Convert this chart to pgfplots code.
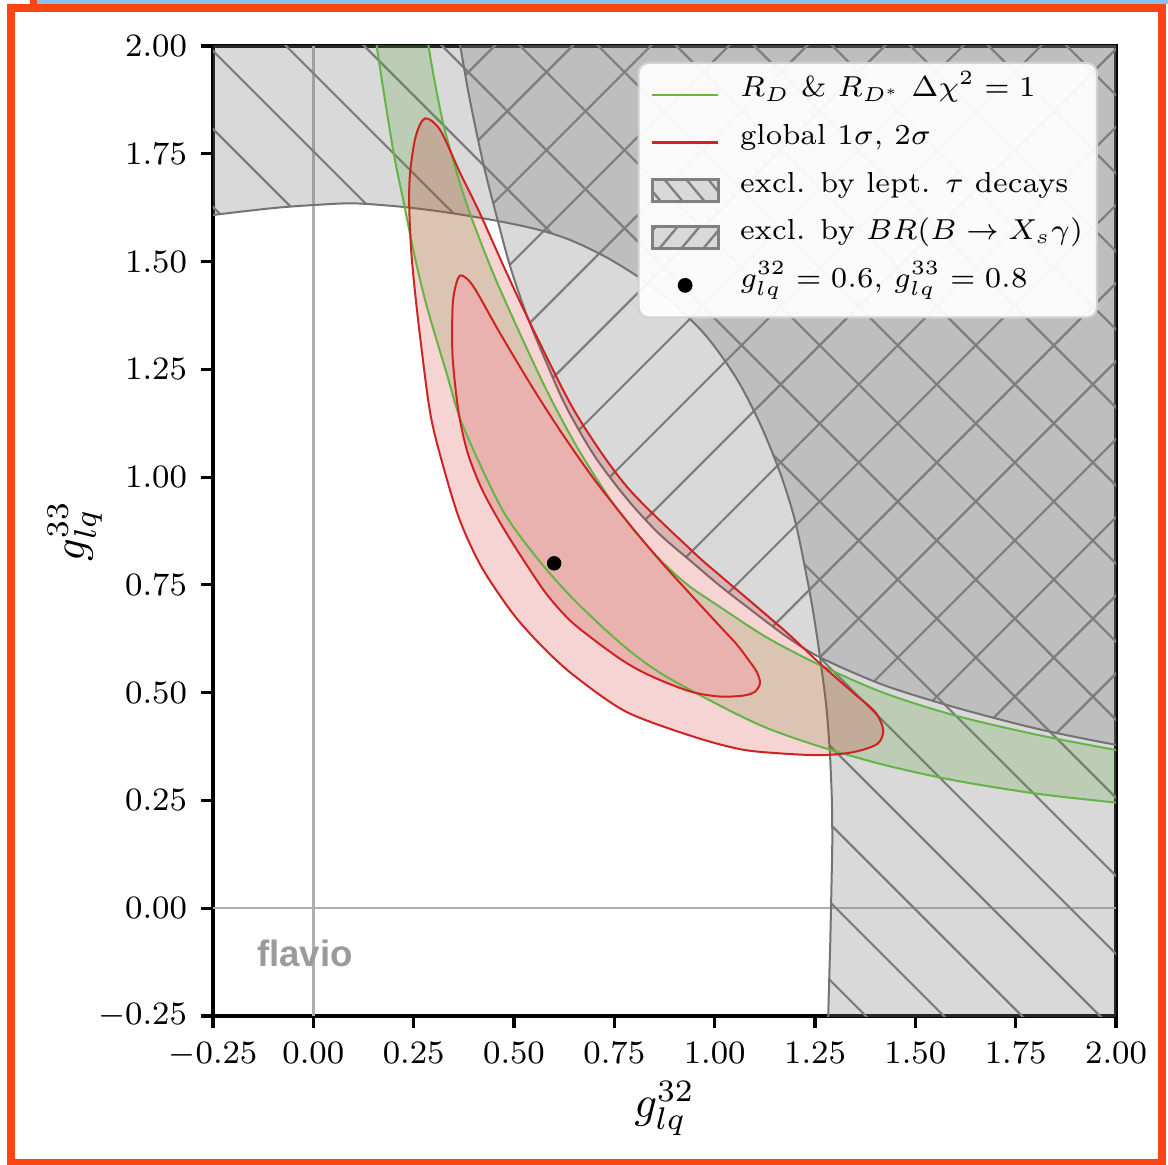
\RequirePackage{fix-cm}
\documentclass[border=0pt]{standalone}
\usepackage{fontspec}
\usepackage{pgfplots}
\pgfplotsset{compat=1.18}
\usetikzlibrary{patterns.meta}
\newfontfamily\flaviofont{Liberation Sans}
\definecolor{regiongray}{RGB}{128,128,128}
\definecolor{hatchgray}{RGB}{125,125,125}
\definecolor{edgegray}{RGB}{115,115,115}
\definecolor{zerogray}{RGB}{175,175,175}
\definecolor{greenfill}{RGB}{80,160,40}
\definecolor{greenedge}{RGB}{100,180,70}
\definecolor{redfill}{RGB}{214,39,40}
\definecolor{innerfill}{RGB}{234,178,175}
\definecolor{rededge}{RGB}{205,35,35}
\definecolor{frameorange}{RGB}{250,70,20}
\definecolor{topblue}{RGB}{140,190,240}
\definecolor{legendedge}{RGB}{210,210,210}
\definecolor{lightpatch}{RGB}{217,217,217}
\definecolor{flaviogray}{RGB}{155,155,155}
\begin{document}
\begin{tikzpicture}
\useasboundingbox (-53.25bp,-37.25bp) rectangle (238.75bp,254bp);
\fill[topblue] (-44bp,253bp) rectangle (238.75bp,254.25bp);
\fill[frameorange] (-45.75bp,252bp) rectangle (-44bp,254.25bp);
\draw[frameorange, line width=2bp] (-50.5bp,-36.75bp) rectangle (237.25bp,252bp);
\begin{axis}[
  width=225.75bp, height=242.5bp, scale only axis,
  xmin=-0.25, xmax=2, ymin=-0.25, ymax=2,
  xtick={-0.25,0,0.25,0.5,0.75,1,1.25,1.5,1.75,2},
  ytick={-0.25,0,0.25,0.5,0.75,1,1.25,1.5,1.75,2},
  tick pos=left, tick align=outside, major tick length=3bp,
  every tick/.style={black, line width=0.8bp},
  axis line style={line width=0.8bp},
  ticklabel style={font=\fontsize{8.2}{9}\selectfont,
    /pgf/number format/fixed, /pgf/number format/fixed zerofill,
    /pgf/number format/precision=2},
  xlabel={$g_{lq}^{32}$}, ylabel={$g_{lq}^{33}$},
  label style={font=\fontsize{11.2}{13}\selectfont},
  xlabel style={at={(axis description cs:0.5,-0.095)}, anchor=center},
  ylabel style={at={(axis description cs:-0.153,0.5)}, anchor=center},
  legend cell align=left,
  legend style={at={(0.980,0.9835)}, anchor=north east, draw=legendedge,
    line width=0.5bp, fill=white, fill opacity=0.93, text opacity=1,
    rounded corners=2.5bp, inner xsep=3bp, inner ysep=3.5bp,
    font=\fontsize{7.25}{9}\selectfont, row sep=2.9bp,
    nodes={inner sep=0.5bp, text height=4.5bp, text depth=3.5bp},
    /tikz/every odd column/.append style={column sep=4.6bp}},
]
\addlegendimage{legend image code/.code={\draw[greenedge, line width=0.55bp, draw opacity=1] (0bp,0bp) -- (16.5bp,0bp);}}
\addlegendentry{$R_D$ \& $R_{D^*}$ $\Delta\chi^2=1$}
\addlegendimage{legend image code/.code={\draw[rededge, line width=0.55bp, draw opacity=1] (0bp,0bp) -- (16.5bp,0bp);}}
\addlegendentry{global $1\sigma$, $2\sigma$}
\addlegendimage{legend image code/.code={\draw[sharp corners, draw=regiongray, draw opacity=1, line width=0.75bp, fill=lightpatch, fill opacity=1, postaction={fill opacity=1, pattern={Lines[angle=-50,distance=4.2bp,line width=0.6bp]}, pattern color=regiongray}] (0bp,-2.75bp) rectangle (16.5bp,2.75bp);}}
\addlegendentry{excl. by lept. $\tau$ decays}
\addlegendimage{legend image code/.code={\draw[sharp corners, draw=regiongray, draw opacity=1, line width=0.75bp, fill=lightpatch, fill opacity=1, postaction={fill opacity=1, pattern={Lines[angle=50,distance=4.2bp,line width=0.6bp]}, pattern color=regiongray}] (0bp,-2.75bp) rectangle (16.5bp,2.75bp);}}
\addlegendentry{excl. by $BR(B\rightarrow X_s\gamma)$}
\addlegendimage{legend image code/.code={\fill[black, fill opacity=1] (8.25bp,0bp) circle (1.6bp);}}
\addlegendentry{$g_{lq}^{32}=0.6$, $g_{lq}^{33}=0.8$}

% zero lines
\addplot[zerogray, line width=0.6bp, forget plot] coordinates {(0,-0.25) (0,2)};
\addplot[zerogray, line width=0.6bp, forget plot] coordinates {(-0.25,0) (2,0)};

% tau decays exclusion (outside the ellipse)
\addplot[draw=none, smooth, fill=regiongray, fill opacity=0.3,
  postaction={fill opacity=1, pattern={Lines[angle=-45,distance=13.8bp,line width=0.55bp]}, pattern color=hatchgray},
  forget plot] coordinates {
(3,3) (-0.7,3) (-0.7,1.57) (-0.4,1.59) (-0.25,1.608) (-0.10,1.624) (0.00,1.631) (0.10,1.635)
(0.22,1.627) (0.34,1.613) (0.46,1.594) (0.56,1.574) (0.64,1.550) (0.73,1.510) (0.82,1.458)
(0.90,1.400) (0.98,1.326) (1.055,1.228) (1.115,1.120) (1.165,1.005) (1.200,0.900) (1.225,0.790)
(1.245,0.690) (1.262,0.585) (1.278,0.470) (1.287,0.360) (1.292,0.250) (1.293,0.150) (1.291,0.050)
(1.288,-0.080) (1.283,-0.25) (1.280,-0.45) (1.28,-0.7) (3,-0.7) (3,3)};

% BR(B -> Xs gamma) exclusion
\addplot[draw=none, smooth, fill=regiongray, fill opacity=0.3,
  postaction={fill opacity=1, pattern={Lines[angle=45,distance=13.8bp,line width=0.55bp]}, pattern color=hatchgray},
  forget plot] coordinates {
(2.5,2.5) (0.33,2.5) (0.33,2.3) (0.343,2.12) (0.366,2.000) (0.390,1.875) (0.424,1.725) (0.457,1.604)
(0.490,1.490) (0.532,1.375) (0.581,1.265) (0.630,1.163) (0.700,1.050) (0.781,0.950) (0.860,0.870)
(0.947,0.800) (1.013,0.748) (1.089,0.693) (1.179,0.630) (1.262,0.582) (1.420,0.518) (1.595,0.467)
(1.800,0.417) (2.000,0.379) (2.200,0.348) (2.5,0.30) (2.5,2.5)};

% boundaries of the exclusions
\addplot[smooth, edgegray, line width=0.5bp, forget plot] coordinates {
(-0.4,1.59) (-0.25,1.608) (-0.10,1.624) (0.00,1.631) (0.10,1.635)
(0.22,1.627) (0.34,1.613) (0.46,1.594) (0.56,1.574) (0.64,1.550) (0.73,1.510) (0.82,1.458)
(0.90,1.400) (0.98,1.326) (1.055,1.228) (1.115,1.120) (1.165,1.005) (1.200,0.900) (1.225,0.790)
(1.245,0.690) (1.262,0.585) (1.278,0.470) (1.287,0.360) (1.292,0.250) (1.293,0.150) (1.291,0.050)
(1.288,-0.080) (1.283,-0.25) (1.280,-0.45)};
\addplot[smooth, edgegray, line width=0.5bp, forget plot] coordinates {
(0.343,2.12) (0.366,2.000) (0.390,1.875) (0.424,1.725) (0.457,1.604)
(0.490,1.490) (0.532,1.375) (0.581,1.265) (0.630,1.163) (0.700,1.050) (0.781,0.950) (0.860,0.870)
(0.947,0.800) (1.013,0.748) (1.089,0.693) (1.179,0.630) (1.262,0.582) (1.420,0.518) (1.595,0.467)
(1.800,0.417) (2.000,0.379) (2.200,0.348)};

% R_D and R_D* band (fill)
\addplot[draw=none, smooth, fill=greenfill, fill opacity=0.2, forget plot] coordinates {
(0.12,2.5) (0.145,2.12) (0.158,2.0) (0.199,1.758) (0.224,1.643) (0.253,1.510) (0.283,1.395)
(0.332,1.241) (0.366,1.135) (0.42,1.02) (0.48,0.91) (0.561,0.808) (0.65,0.715) (0.765,0.615)
(0.864,0.546) (1.013,0.470) (1.13,0.418) (1.262,0.375) (1.42,0.333) (1.595,0.297) (1.80,0.266)
(2.0,0.245) (2.2,0.226) (2.5,0.21) (2.5,0.32) (2.2,0.335) (2.0,0.367) (1.80,0.403) (1.595,0.448)
(1.42,0.500) (1.262,0.564) (1.13,0.628) (1.013,0.699) (0.93,0.752) (0.85,0.822) (0.75,0.935)
(0.66,1.065) (0.581,1.202) (0.507,1.349) (0.448,1.473) (0.390,1.612) (0.353,1.720) (0.320,1.835)
(0.287,2.0) (0.275,2.12) (0.26,2.5) (0.12,2.5)};

% global fit 2 sigma (fill)
\addplot[draw=none, smooth, fill=redfill, fill opacity=0.2, forget plot] coordinates {
(1.089,0.712) (1.179,0.640) (1.262,0.568) (1.345,0.500) (1.400,0.455) (1.420,0.413) (1.405,0.381)
(1.345,0.362) (1.262,0.355) (1.150,0.360) (1.063,0.369) (0.947,0.398) (0.781,0.455) (0.656,0.535)
(0.58,0.598) (0.50,0.68) (0.42,0.79) (0.365,0.90) (0.324,1.024) (0.291,1.150) (0.262,1.357)
(0.245,1.511) (0.239,1.627) (0.241,1.705) (0.255,1.790) (0.278,1.832) (0.316,1.805) (0.366,1.705)
(0.415,1.612) (0.482,1.473) (0.557,1.325) (0.656,1.145) (0.781,0.978) (0.947,0.826) (1.013,0.772)
(1.089,0.712) (1.179,0.640)};
% global fit 1 sigma (fill)
\addplot[draw=none, smooth, fill=innerfill, forget plot] coordinates {
(0.930,0.738) (1.013,0.654) (1.055,0.612) (1.085,0.575) (1.105,0.548) (1.113,0.522) (1.100,0.502)
(1.070,0.493) (1.013,0.491) (0.95,0.500) (0.888,0.520) (0.82,0.548) (0.765,0.578) (0.70,0.622)
(0.639,0.668) (0.58,0.73) (0.515,0.820) (0.465,0.895) (0.42,0.972) (0.385,1.055) (0.362,1.15)
(0.347,1.279) (0.347,1.395) (0.355,1.445) (0.368,1.468) (0.399,1.442) (0.465,1.334) (0.548,1.205)
(0.62,1.101) (0.698,0.997) (0.789,0.889) (0.864,0.806) (0.930,0.738) (1.013,0.654)};

% R_D and R_D* band (edges)
\addplot[smooth, greenedge, line width=0.5bp, forget plot] coordinates {
(0.145,2.12) (0.158,2.0) (0.199,1.758) (0.224,1.643) (0.253,1.510) (0.283,1.395)
(0.332,1.241) (0.366,1.135) (0.42,1.02) (0.48,0.91) (0.561,0.808) (0.65,0.715) (0.765,0.615)
(0.864,0.546) (1.013,0.470) (1.13,0.418) (1.262,0.375) (1.42,0.333) (1.595,0.297) (1.80,0.266)
(2.0,0.245) (2.2,0.226)};
\addplot[smooth, greenedge, line width=0.5bp, forget plot] coordinates {
(2.2,0.335) (2.0,0.367) (1.80,0.403) (1.595,0.448)
(1.42,0.500) (1.262,0.564) (1.13,0.628) (1.013,0.699) (0.93,0.752) (0.85,0.822) (0.75,0.935)
(0.66,1.065) (0.581,1.202) (0.507,1.349) (0.448,1.473) (0.390,1.612) (0.353,1.720) (0.320,1.835)
(0.287,2.0) (0.275,2.12)};

% global fit contours (edges)
\addplot[smooth, draw=rededge, line width=0.5bp, forget plot] coordinates {
(1.089,0.712) (1.179,0.640) (1.262,0.568) (1.345,0.500) (1.400,0.455) (1.420,0.413) (1.405,0.381)
(1.345,0.362) (1.262,0.355) (1.150,0.360) (1.063,0.369) (0.947,0.398) (0.781,0.455) (0.656,0.535)
(0.58,0.598) (0.50,0.68) (0.42,0.79) (0.365,0.90) (0.324,1.024) (0.291,1.150) (0.262,1.357)
(0.245,1.511) (0.239,1.627) (0.241,1.705) (0.255,1.790) (0.278,1.832) (0.316,1.805) (0.366,1.705)
(0.415,1.612) (0.482,1.473) (0.557,1.325) (0.656,1.145) (0.781,0.978) (0.947,0.826) (1.013,0.772)
(1.089,0.712) (1.179,0.640)};
\addplot[smooth, draw=rededge, line width=0.5bp, forget plot] coordinates {
(0.930,0.738) (1.013,0.654) (1.055,0.612) (1.085,0.575) (1.105,0.548) (1.113,0.522) (1.100,0.502)
(1.070,0.493) (1.013,0.491) (0.95,0.500) (0.888,0.520) (0.82,0.548) (0.765,0.578) (0.70,0.622)
(0.639,0.668) (0.58,0.73) (0.515,0.820) (0.465,0.895) (0.42,0.972) (0.385,1.055) (0.362,1.15)
(0.347,1.279) (0.347,1.395) (0.355,1.445) (0.368,1.468) (0.399,1.442) (0.465,1.334) (0.548,1.205)
(0.62,1.101) (0.698,0.997) (0.789,0.889) (0.864,0.806) (0.930,0.738) (1.013,0.654)};

% best point
\addplot[only marks, mark=*, mark size=1.6bp, black, forget plot] coordinates {(0.6,0.8)};

\node[font={\flaviofont\bfseries\fontsize{9.2}{11}\selectfont}, text=flaviogray] at (axis cs:-0.021,-0.104) {flavio};
\end{axis}
\end{tikzpicture}
\end{document}
